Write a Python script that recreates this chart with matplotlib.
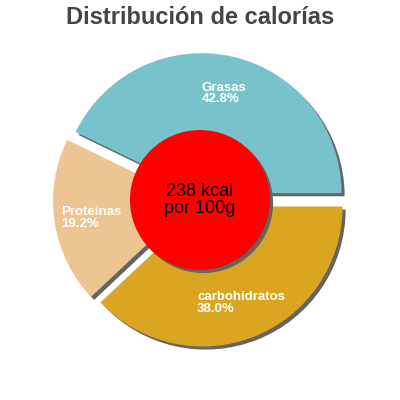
import matplotlib
matplotlib.use("Agg")
import matplotlib.pyplot as plt

# calorie split per 100 g
categories = ["Grasas", "Proteinas", "carbohidratos"]
shares = [42.8, 19.2, 38.0]
colors = ["#78c3cb", "#edc592", "#daa520"]
kcal = 238

# label anchors (left edge, baseline of name, baseline of percent) in pie units
label_pos = [(0.014, 0.78, 0.70), (-0.993, -0.107, -0.193), (-0.021, -0.714, -0.80)]

plt.rcParams["font.family"] = ["Liberation Sans", "DejaVu Sans"]

fig = plt.figure(figsize=(4, 4), dpi=100)
ax = fig.add_axes([0, 0, 1, 1])

explode = [0.05] * len(shares)
shadow_off = 0.022

# shadow first, then the real wedges on top
ax.pie(shares, explode=explode, colors=["#646464"] * 3, startangle=0,
       center=(shadow_off, -shadow_off), wedgeprops={"linewidth": 0})
ax.pie(shares, explode=explode, colors=colors, startangle=0,
       wedgeprops={"linewidth": 0})

ax.add_patch(plt.Circle((shadow_off, -shadow_off), 0.5, color="#646464", lw=0))
ax.add_patch(plt.Circle((0, 0), 0.5, color="#ff0000", lw=0))

ax.text(0, 0.029, f"{kcal} kcal", ha="center", va="baseline", fontsize=13, color="black")
ax.text(0, -0.093, "por 100g", ha="center", va="baseline", fontsize=13, color="black")

for name, val, (x, y1, y2) in zip(categories, shares, label_pos):
    ax.text(x, y1, name, ha="left", va="baseline", fontsize=9.5,
            fontweight="bold", color="white")
    ax.text(x, y2, f"{val:.1f}%", ha="left", va="baseline", fontsize=9.5,
            fontweight="bold", color="white")

lim = 200 / 140
ax.set_xlim(-lim, lim)
ax.set_ylim(-lim, lim)
ax.set_aspect("equal")
ax.axis("off")

fig.text(0.5, 1 - 24 / 400, "Distribución de calorías", ha="center", va="baseline",
         fontsize=17, fontweight="bold", color="#444444")

fig.savefig("out.png", dpi=100)
plt.close(fig)
